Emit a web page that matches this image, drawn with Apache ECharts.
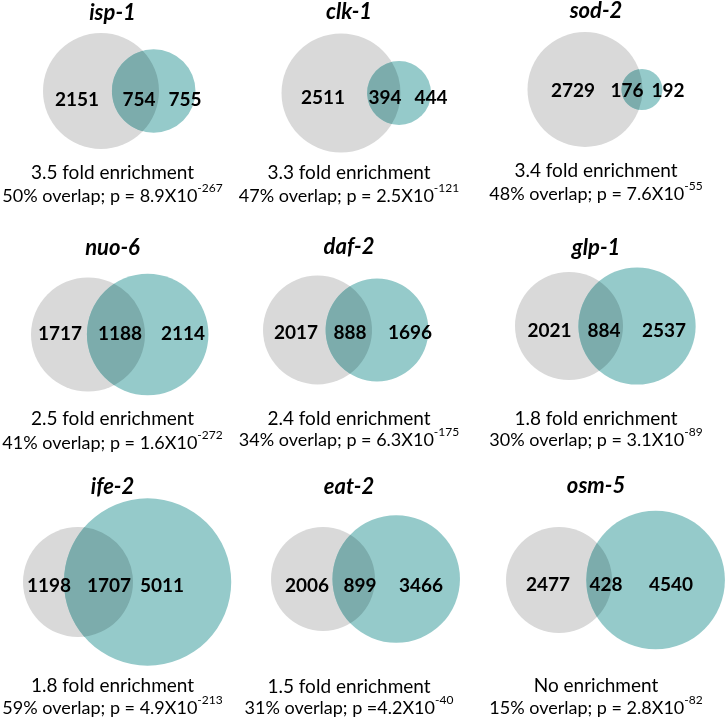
<!DOCTYPE html>
<html><head><meta charset="utf-8">
<script src="https://cdn.jsdelivr.net/npm/echarts@6/dist/echarts.min.js"></script>
<style>html,body{margin:0;padding:0;background:#fff}#chart{width:725px;height:720px}</style>
</head><body><div id="chart"></div>
<script>
// ---- data ----
const genes = ['isp-1','clk-1','sod-2','nuo-6','daf-2','glp-1','ife-2','eat-2','osm-5'];
const onlyA = [2151,2511,2729,1717,2017,2021,1198,2006,2477];
const both  = [754,394,176,1188,888,884,1707,899,428];
const onlyB = [755,444,192,2114,1696,2537,5011,3466,4540];
const foldText = ['3.5 fold enrichment','3.3 fold enrichment','3.4 fold enrichment','2.5 fold enrichment','2.4 fold enrichment','1.8 fold enrichment','1.8 fold enrichment','1.5 fold enrichment','No enrichment'];
const overlapPct = ['50%','47%','48%','41%','34%','30%','59%','31%','15%'];
const pText = ['p = 8.9X10','p = 2.5X10','p = 7.6X10','p = 1.6X10','p = 6.3X10','p = 3.1X10','p = 4.9X10','p =4.2X10','p = 2.8X10'];
const pExponent = ['-267','-121','-55','-272','-175','-89','-213','-40','-82'];

// ---- layout (pixels) ----
const panelCenter = [[101,91],[341,93],[585,89.5],[88,334.5],[317.5,330],[569,326],[78,582],[323,579],[559,580]];
const grayRadiusPx = [58,59.5,57.5,57,54.5,54,55,52,53];
const labelX = [[77,139,185],[323,385,431],[573,627,668],[60,120,183],[296,350,410],[549.5,604,664],[49,109,162],[307,360,421],[548,606,671]];
const labelY = [100,98,91,334,333,331,586,586,585];
const colX = [112.5,349,596];
const titleY = [13,12,11,248,247,248,486.5,487,486];
const line1Y = [173,173,171,418.5,418.5,418.5,686,686.5,686];
const line2Y = [196,196,194,443.5,440,440,708.5,708,708];

const GRAY = '#d9d9d9', TEAL = '#95caca', OVERLAP = '#7cacac';
const FONT = 'Lato';

function lensArea(r1, r2, d) {
  if (d >= r1 + r2) return 0;
  if (d <= Math.abs(r1 - r2)) { const r = Math.min(r1, r2); return Math.PI * r * r; }
  const a1 = Math.acos((d*d + r1*r1 - r2*r2) / (2*d*r1));
  const a2 = Math.acos((d*d + r2*r2 - r1*r1) / (2*d*r2));
  const k = 0.5 * Math.sqrt((-d+r1+r2)*(d+r1-r2)*(d-r1+r2)*(d+r1+r2));
  return r1*r1*a1 + r2*r2*a2 - k;
}
function solveDistance(r1, r2, target) {
  let lo = Math.abs(r1 - r2), hi = r1 + r2;
  for (let i = 0; i < 100; i++) {
    const mid = (lo + hi) / 2;
    if (lensArea(r1, r2, mid) > target) lo = mid; else hi = mid;
  }
  return (lo + hi) / 2;
}

const grids = [], xAxes = [], yAxes = [], series = [], graphics = [];
const HALF = 60;
const textAlignProps = {align: 'center', verticalAlign: 'middle', textAlign: 'center', textVerticalAlign: 'middle'};
genes.forEach((g, i) => {
  const sizeA = onlyA[i] + both[i], sizeB = onlyB[i] + both[i];
  const rA = Math.sqrt(sizeA / Math.PI), rB = Math.sqrt(sizeB / Math.PI);
  const d = solveDistance(rA, rB, both[i]);
  const s = grayRadiusPx[i] / rA; // px per unit
  const [cx, cy] = panelCenter[i];
  grids.push({left: cx - HALF, top: cy - HALF, width: 2*HALF, height: 2*HALF, containLabel: false, outerBoundsMode: 'none'});
  xAxes.push({type: 'value', gridIndex: i, min: -HALF/s, max: HALF/s, show: false, splitLine: {show: false}});
  yAxes.push({type: 'value', gridIndex: i, min: -HALF/s, max: HALF/s, show: false, splitLine: {show: false}});
  const lx = labelX[i], ly = labelY[i];
  series.push({
    type: 'custom', xAxisIndex: i, yAxisIndex: i, clip: false, silent: true,
    data: [[0, 0, rA, rB, d]],
    renderItem: function (params, api) {
      const c = api.coord([0, 0]);
      const cB = api.coord([api.value(4), 0]);
      const pA = api.size([api.value(2), 0])[0];
      const pB = api.size([api.value(3), 0])[0];
      const pd = cB[0] - c[0];
      // lens (intersection) outline
      const xc = (pd*pd + pA*pA - pB*pB) / (2*pd);
      const h = Math.sqrt(Math.max(pA*pA - xc*xc, 0));
      const largeB = xc < pd ? 0 : 1;
      const largeA = xc > 0 ? 0 : 1;
      const X = c[0] + xc, Y1 = c[1] - h, Y2 = c[1] + h;
      const lens = 'M' + X + ' ' + Y1 + ' A' + pB + ' ' + pB + ' 0 ' + largeB + ' 0 ' + X + ' ' + Y2 +
                   ' A' + pA + ' ' + pA + ' 0 ' + largeA + ' 0 ' + X + ' ' + Y1 + ' Z';
      const vals = [onlyA[i], both[i], onlyB[i]];
      const children = [
        {type: 'circle', shape: {cx: c[0], cy: c[1], r: pA}, style: {fill: GRAY}},
        {type: 'circle', shape: {cx: cB[0], cy: cB[1], r: pB}, style: {fill: TEAL}},
        {type: 'path', shape: {pathData: lens}, style: {fill: OVERLAP}}
      ];
      vals.forEach((v, k) => {
        children.push({type: 'text', style: Object.assign({x: lx[k], y: ly, text: String(v), font: 'bold 19px ' + FONT, fill: '#000'}, textAlignProps)});
      });
      return {type: 'group', children: children};
    }
  });
  const col = colX[i % 3];
  graphics.push({type: 'text', x: col, y: titleY[i], style: Object.assign({text: g, font: 'italic bold 22px ' + FONT, fill: '#000'}, textAlignProps)});
  graphics.push({type: 'text', x: col, y: line1Y[i], style: Object.assign({text: foldText[i], font: '19px ' + FONT, fill: '#000'}, textAlignProps)});
  graphics.push({type: 'text', x: col, y: line2Y[i], style: Object.assign({
    text: '{a|' + overlapPct[i] + ' overlap; ' + pText[i] + '}{s|' + pExponent[i] + '}',
    rich: {
      a: {fontSize: 18, fontFamily: FONT, fill: '#000', lineHeight: 28},
      s: {fontSize: 12, fontFamily: FONT, fill: '#000', lineHeight: 14, verticalAlign: 'top'}
    }
  }, textAlignProps)});
});

const chart = echarts.init(document.getElementById('chart'), null, {renderer: 'canvas'});
chart.setOption({
  backgroundColor: '#fff',
  animation: false,
  grid: grids, xAxis: xAxes, yAxis: yAxes, series: series,
  graphic: graphics
});
</script></body></html>
